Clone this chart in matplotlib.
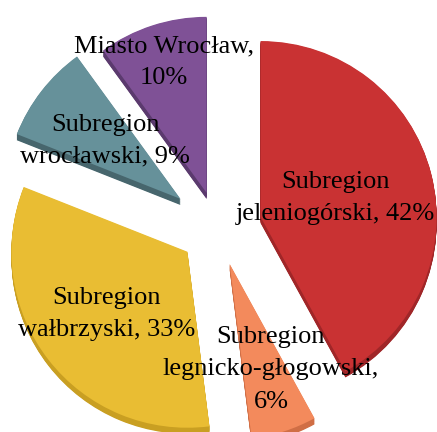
import numpy as np
import matplotlib
matplotlib.use("Agg")
import matplotlib.pyplot as plt

plt.rcParams['font.family'] = 'serif'
plt.rcParams['font.serif'] = ['Liberation Serif', 'DejaVu Serif']

# ── Data ───────────────────────────────────────────────────────
labels = ["Subregion\njeleniogórski, 42%",
          "Subregion\nlegnicko-głogowski,\n6%",
          "Subregion\nwałbrzyski, 33%",
          "Subregion\nwrocławski, 9%",
          "Miasto Wrocław,\n10%"]
shares = [42, 6, 33, 9, 10]
explode = [0.25, 0.215, 0.22, 0.27, 0.21]

# ── Style ──────────────────────────────────────────────────────
top_colors  = ['#C93233', '#F38A5C', '#E9BD33', '#66919A', '#7F5196']
side_colors = ['#A02628', '#D06E45', '#C99F22', '#47666D', '#5B3A6E']
label_dist  = [0.44, 0.63, 0.58, 0.54, 0.78]
label_shift = [0.0, 0.04, 0.0, 0.0, 0.0]   # extra x nudge
depth  = 0.035
layers = 10
R_PX = 176          # pie radius in pixels
CX, CY = 218, 228   # pie centre in pixels (from top-left)

fig = plt.figure(figsize=(4.37, 4.32), dpi=100)
ax = fig.add_axes([0, 0, 1, 1])

# extruded side faces
for k in range(layers, 0, -1):
    ax.pie(shares, explode=explode, startangle=90, counterclock=False,
           colors=side_colors, center=(0, -depth*k/layers),
           wedgeprops=dict(linewidth=0), frame=True)

# top faces
wedges, _ = ax.pie(shares, explode=explode, startangle=90, counterclock=False,
                   colors=top_colors, wedgeprops=dict(linewidth=0), frame=True)

ax.set_aspect('equal')
ax.set_xlim(-CX/R_PX, (437-CX)/R_PX)
ax.set_ylim(-(432-CY)/R_PX, CY/R_PX)
ax.axis('off')

for w, lab, d, sx in zip(wedges, labels, label_dist, label_shift):
    mid = np.deg2rad((w.theta1 + w.theta2) / 2)
    cx, cy = w.center
    ax.text(cx + d*np.cos(mid) + sx, cy + d*np.sin(mid), lab,
            ha='center', va='center', fontsize=19,
            linespacing=1.6, color='black')

fig.savefig('out.png', dpi=100)
